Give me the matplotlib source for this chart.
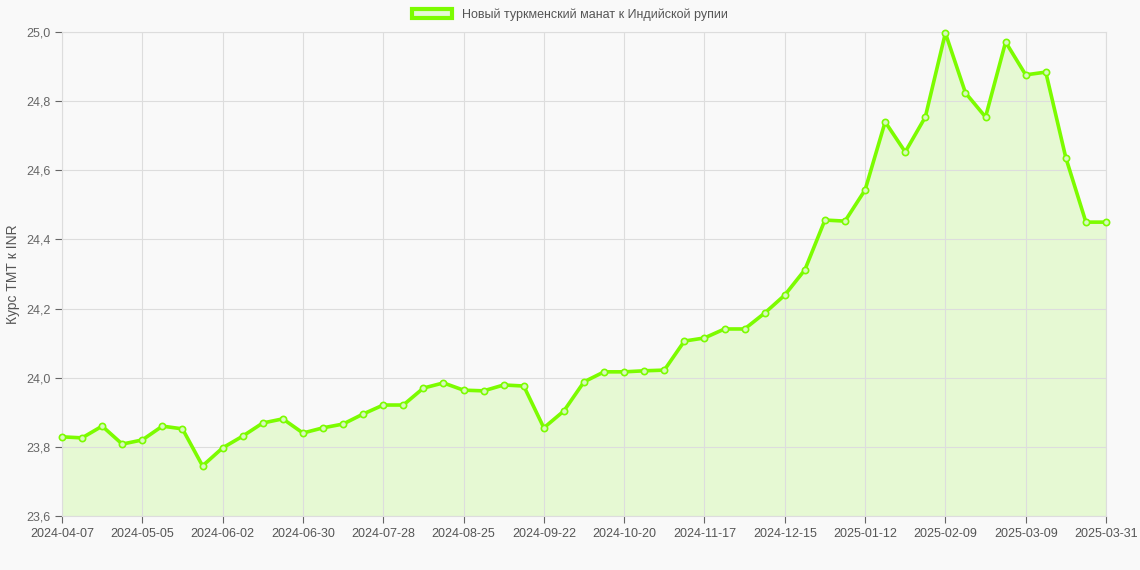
import matplotlib
matplotlib.use("Agg")
import matplotlib.pyplot as plt
import datetime as dt

start = dt.date(2024, 4, 7)
dates = [(start + dt.timedelta(weeks=i)).isoformat() for i in range(52)] + ["2025-03-31"]
values = [23.829, 23.826, 23.860, 23.808, 23.820, 23.860, 23.852, 23.745, 23.797, 23.831,
          23.869, 23.881, 23.840, 23.855, 23.866, 23.895, 23.921, 23.921, 23.970, 23.985,
          23.964, 23.962, 23.979, 23.976, 23.855, 23.904, 23.988, 24.017, 24.017, 24.020,
          24.022, 24.106, 24.115, 24.141, 24.141, 24.187, 24.239, 24.312, 24.456, 24.453,
          24.543, 24.740, 24.653, 24.754, 24.997, 24.824, 24.754, 24.971, 24.876, 24.884,
          24.636, 24.450, 24.450]
series_label = "Новый туркменский манат к Индийской рупии"
ylabel = "Курс ТМТ к INR"

plt.rcParams['font.family'] = ['Liberation Sans', 'DejaVu Sans']
fig = plt.figure(figsize=(11.4, 5.7), dpi=100, facecolor='#f9f9f9')
ax = fig.add_axes([62/1140, 1-516/570, (1106-62)/1140, (516-32)/570])
ax.set_facecolor('#f9f9f9')
x = list(range(len(values)))
c = '#7cfc00'
ax.fill_between(x, values, 23.6, color=c, alpha=0.15, linewidth=0)
ax.plot(x, values, color=c, lw=2.6, marker='o', ms=4.5, mfc='#d8f8c0', mec=c, mew=1.2,
        label=series_label, zorder=3, clip_on=False)
ax.set_xlim(0, len(values)-1)
ax.set_ylim(23.6, 25.0)
ticks = list(range(0, len(values)-1, 4)) + [len(values)-1]
ax.set_xticks(ticks)
ax.set_xticklabels([dates[i] for i in ticks])
yt = [23.6 + 0.2*i for i in range(8)]
ax.set_yticks(yt)
ax.set_yticklabels([f"{v:.1f}".replace('.', ',') for v in yt])
ax.grid(True, color='#dddddd', lw=0.8)
for s in ax.spines.values():
    s.set_color('#dddddd')
ax.tick_params(colors='#666666', labelsize=9, length=5)
ax.tick_params(axis='x', labelcolor='#555555')
ax.set_ylabel(ylabel, color='#555555', fontsize=10)
from matplotlib.patches import Patch
fig.legend(handles=[Patch(facecolor='#e5f9d5', edgecolor=c, lw=3, label=series_label)],
           loc='upper center', bbox_to_anchor=(0.5, 1.005), frameon=False, fontsize=9,
           labelcolor='#555555', handlelength=3.2)
fig.savefig('out.png', dpi=100, facecolor=fig.get_facecolor())
